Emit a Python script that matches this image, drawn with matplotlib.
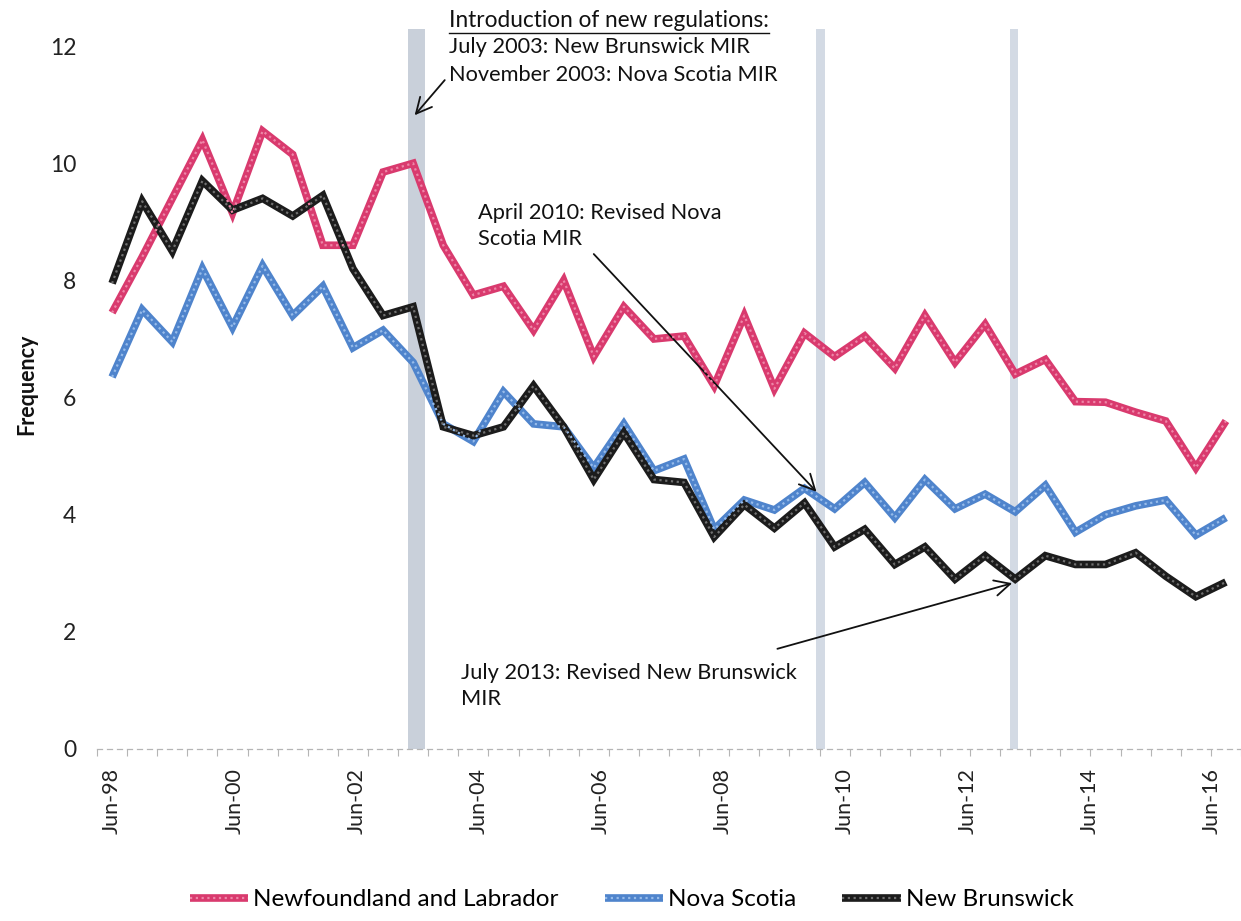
import datetime as dt
import numpy as np
import matplotlib
matplotlib.use("Agg")
import matplotlib.pyplot as plt
from matplotlib.legend_handler import HandlerTuple

# ---------------- data ----------------
start_date = dt.date(1998, 6, 1)
step_days = 180
n_points = 38

newfoundland = [7.45, 8.4, 9.4, 10.4, 9.15, 10.55, 10.15, 8.6, 8.6, 9.85,
                10.0, 8.6, 7.75, 7.9, 7.15, 8.0, 6.7, 7.55, 7.0, 7.05,
                6.2, 7.4, 6.15, 7.1, 6.7, 7.05, 6.5, 7.4, 6.6, 7.25,
                6.4, 6.65, 5.93, 5.92, 5.75, 5.6, 4.8, 5.6]
nova_scotia = [6.35, 7.5, 6.95, 8.2, 7.2, 8.25, 7.4, 7.9, 6.85, 7.15,
               6.6, 5.55, 5.25, 6.1, 5.55, 5.5, 4.8, 5.55, 4.75, 4.95,
               3.75, 4.25, 4.08, 4.45, 4.1, 4.55, 3.95, 4.6, 4.1, 4.35,
               4.05, 4.5, 3.7, 4.0, 4.15, 4.25, 3.65, 3.95]
new_brunswick = [7.95, 9.35, 8.5, 9.7, 9.2, 9.4, 9.1, 9.45, 8.2, 7.4,
                 7.55, 5.5, 5.35, 5.5, 6.2, 5.5, 4.6, 5.4, 4.6, 4.55,
                 3.62, 4.17, 3.77, 4.2, 3.45, 3.75, 3.15, 3.45, 2.9, 3.3,
                 2.9, 3.3, 3.15, 3.15, 3.35, 2.95, 2.6, 2.85]

series_names = ["Newfoundland and Labrador", "Nova Scotia", "New Brunswick"]
tick_years = [1998, 2000, 2002, 2004, 2006, 2008, 2010, 2012, 2014, 2016]
tick_labels = ["Jun-98", "Jun-00", "Jun-02", "Jun-04", "Jun-06",
               "Jun-08", "Jun-10", "Jun-12", "Jun-14", "Jun-16"]

# regulation bands (in point-index units along the x axis)
bands = [(9.83, 10.39), (23.38, 23.68), (29.82, 30.10)]
band_colors = ["#c9d0da", "#d3dae4", "#d3dae4"]

# ---------------- styling ----------------
TXT_FONT = ["Lato", "DejaVu Sans"]
plt.rcParams["font.family"] = TXT_FONT

fig = plt.figure(figsize=(12.41, 9.21), dpi=100)
ax = fig.add_axes([0.0782, 0.1868, 0.9218, 0.7822])

x = np.arange(n_points)

for (lo, hi), bc in zip(bands, band_colors):
    ax.axvspan(lo, hi, color=bc, zorder=1, lw=0)

styles = [
    ("#d93a6e", "#ee86a8"),
    ("#4f84cc", "#96bbea"),
    ("#1c1c1c", "#707070"),
]
handles = []
for vals, (base_c, dot_c) in zip([newfoundland, nova_scotia, new_brunswick], styles):
    l1, = ax.plot(x, vals, color=base_c, lw=5.5, solid_joinstyle="miter",
                  solid_capstyle="butt", zorder=3)
    l2, = ax.plot(x, vals, color=dot_c, lw=1.6, linestyle=(0, (1, 1.6)),
                  zorder=4)
    handles.append((l1, l2))

ax.set_xlim(-0.5, 36.75)
ax.set_ylim(0, 12.3)

# axis / ticks
tick_pos = [((dt.date(y, 6, 1) - start_date).days) / step_days for y in tick_years]
ax.set_xticks(tick_pos)
ax.set_xticklabels(tick_labels, rotation=90, fontsize=15.5, color="#222222")
ax.tick_params(axis="x", which="major", length=0, pad=14)
ax.set_xticks(np.arange(-0.5, 38, 1), minor=True)
ax.tick_params(axis="x", which="minor", length=5, color="#b5b5b5", width=0.8)

ax.set_yticks([0, 2, 4, 6, 8, 10, 12])
ax.tick_params(axis="y", length=0, pad=15, labelsize=16.5, labelcolor="#222222")

for s in ["left", "top", "right"]:
    ax.spines[s].set_visible(False)
ax.spines["bottom"].set_color("#b5b5b5")
ax.spines["bottom"].set_linestyle((0, (4, 4)))
ax.spines["bottom"].set_linewidth(0.9)

ax.set_ylabel("Frequency", fontsize=15.5, fontweight="bold", color="#111111")
ax.yaxis.set_label_coords(-0.052, 0.5066)

# ---------------- annotations ----------------
ann_fs = 15.7
head = ax.text(11.2, 12.43, "Introduction of new regulations:", fontsize=16.3,
               ha="left", va="center", color="#111111")
ax.text(11.2, 11.98, "July 2003: New Brunswick MIR", fontsize=ann_fs,
        ha="left", va="center", color="#111111")
ax.text(11.2, 11.50, "November 2003: Nova Scotia MIR", fontsize=ann_fs,
        ha="left", va="center", color="#111111")

arrow_kw = dict(arrowstyle="->", lw=1.3, color="#111111", mutation_scale=28,
                shrinkA=0, shrinkB=0)
ax.annotate("", xy=(10.05, 10.82), xytext=(11.05, 11.42),
            arrowprops=arrow_kw, annotation_clip=False)

ax.text(12.15, 8.93, "April 2010: Revised Nova\nScotia MIR", fontsize=ann_fs,
        ha="left", va="center", linespacing=1.35, color="#111111")
ax.annotate("", xy=(23.4, 4.39), xytext=(16.0, 8.45),
            arrowprops=arrow_kw, annotation_clip=False)

ax.text(11.6, 1.08, "July 2013: Revised New Brunswick\nMIR", fontsize=ann_fs,
        ha="left", va="center", linespacing=1.35, color="#111111")
ax.annotate("", xy=(29.9, 2.83), xytext=(22.1, 1.71),
            arrowprops=arrow_kw, annotation_clip=False)

# ---------------- legend ----------------
fig.legend(handles, series_names, loc="center", bbox_to_anchor=(0.509, 0.023),
           ncol=3, frameon=False, fontsize=17.5, handlelength=2.4,
           handletextpad=0.2, columnspacing=1.9,
           handler_map={tuple: HandlerTuple(ndivide=1)})

# underline of the heading, matched to its rendered width
fig.canvas.draw()
bb = head.get_window_extent().transformed(ax.transData.inverted())
ax.plot([bb.x0, bb.x1], [bb.y0 - 0.02, bb.y0 - 0.02], color="#111111",
        lw=1.0, clip_on=False, zorder=5)

fig.savefig("out.png", dpi=100)
